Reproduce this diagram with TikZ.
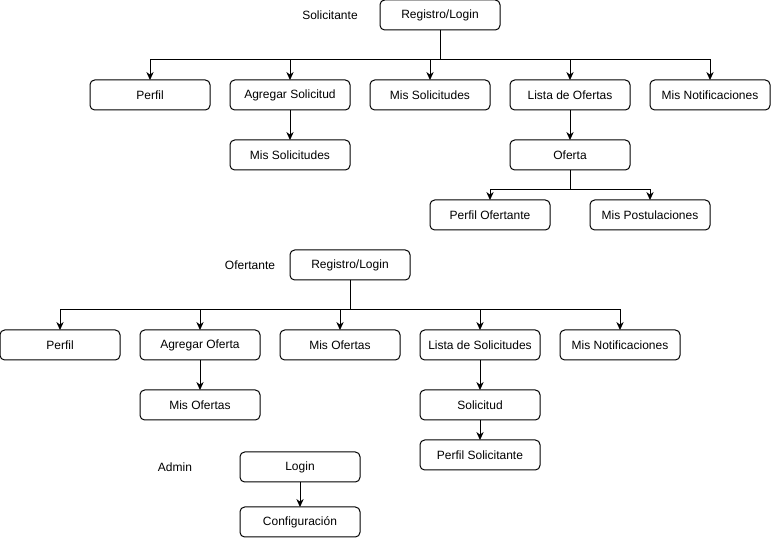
\documentclass[tikz,border=0pt]{standalone}
\usepackage{fontspec}
\setmainfont{Liberation Sans}
\usetikzlibrary{arrows.meta,positioning}

\begin{document}
\begin{tikzpicture}[
  x=0.75pt, y=-0.75pt,
  node distance=15pt and 15pt,
  box/.style={draw, rounded corners=3.5pt, align=center, minimum width=90pt, minimum height=22.5pt, inner sep=0pt, outer sep=0pt, line width=0.75pt, font=\fontsize{9}{11}\selectfont},
  tag/.style={font=\fontsize{9}{11}\selectfont},
  arrow/.style={-{Stealth[length=6pt,width=5.5pt]}, line width=0.75pt}
]
\useasboundingbox (0,0) rectangle (772,538);

% Solicitante
\node[tag] (stag) at (330,15) {Solicitante};
\node[box] (sreg) at (440,15) {Registro/Login};
\node[box] (sperfil) at (150,95) {Perfil};
\node[box, right=of sperfil] (sagregar) {Agregar Solicitud};
\node[box, right=of sagregar] (ssolic) {Mis Solicitudes};
\node[box, right=of ssolic] (slista) {Lista de Ofertas};
\node[box, right=of slista] (snotif) {Mis Notificaciones};
\node[box, below=22.5pt of sagregar] (smissol) {Mis Solicitudes};
\node[box, below=22.5pt of slista] (soferta) {Oferta};
\node[box] (sperfof) at (490,215) {Perfil Ofertante};
\node[box, right=30pt of sperfof] (spost) {Mis Postulaciones};

\foreach \n in {sperfil,sagregar,ssolic,slista,snotif}
  \draw[arrow] (sreg.south) -- ++(0,-22.5pt) -| (\n);
\draw[arrow] (sagregar) -- (smissol);
\draw[arrow] (slista) -- (soferta);
\foreach \n in {sperfof,spost}
  \draw[arrow] (soferta.south) -- ++(0,-15pt) -| (\n);

% Ofertante
\node[tag] (otag) at (250,265) {Ofertante};
\node[box] (oreg) at (350,265) {Registro/Login};
\node[box] (operfil) at (60,345) {Perfil};
\node[box, right=of operfil] (oagregar) {Agregar Oferta};
\node[box, right=of oagregar] (oofertas) {Mis Ofertas};
\node[box, right=of oofertas] (olista) {Lista de Solicitudes};
\node[box, right=of olista] (onotif) {Mis Notificaciones};
\node[box, below=22.5pt of oagregar] (omisof) {Mis Ofertas};
\node[box, below=22.5pt of olista] (osolic) {Solicitud};
\node[box, below=15pt of osolic] (operfsol) {Perfil Solicitante};

\foreach \n in {operfil,oagregar,oofertas,olista,onotif}
  \draw[arrow] (oreg.south) -- ++(0,-22.5pt) -| (\n);
\draw[arrow] (oagregar) -- (omisof);
\draw[arrow] (olista) -- (osolic);
\draw[arrow] (osolic) -- (operfsol);

% Admin
\node[tag] (atag) at (175,467) {Admin};
\node[box] (alogin) at (300,467) {Login};
\node[box, below=18.75pt of alogin] (aconf) {Configuración};
\draw[arrow] (alogin) -- (aconf);
\end{tikzpicture}
\end{document}
